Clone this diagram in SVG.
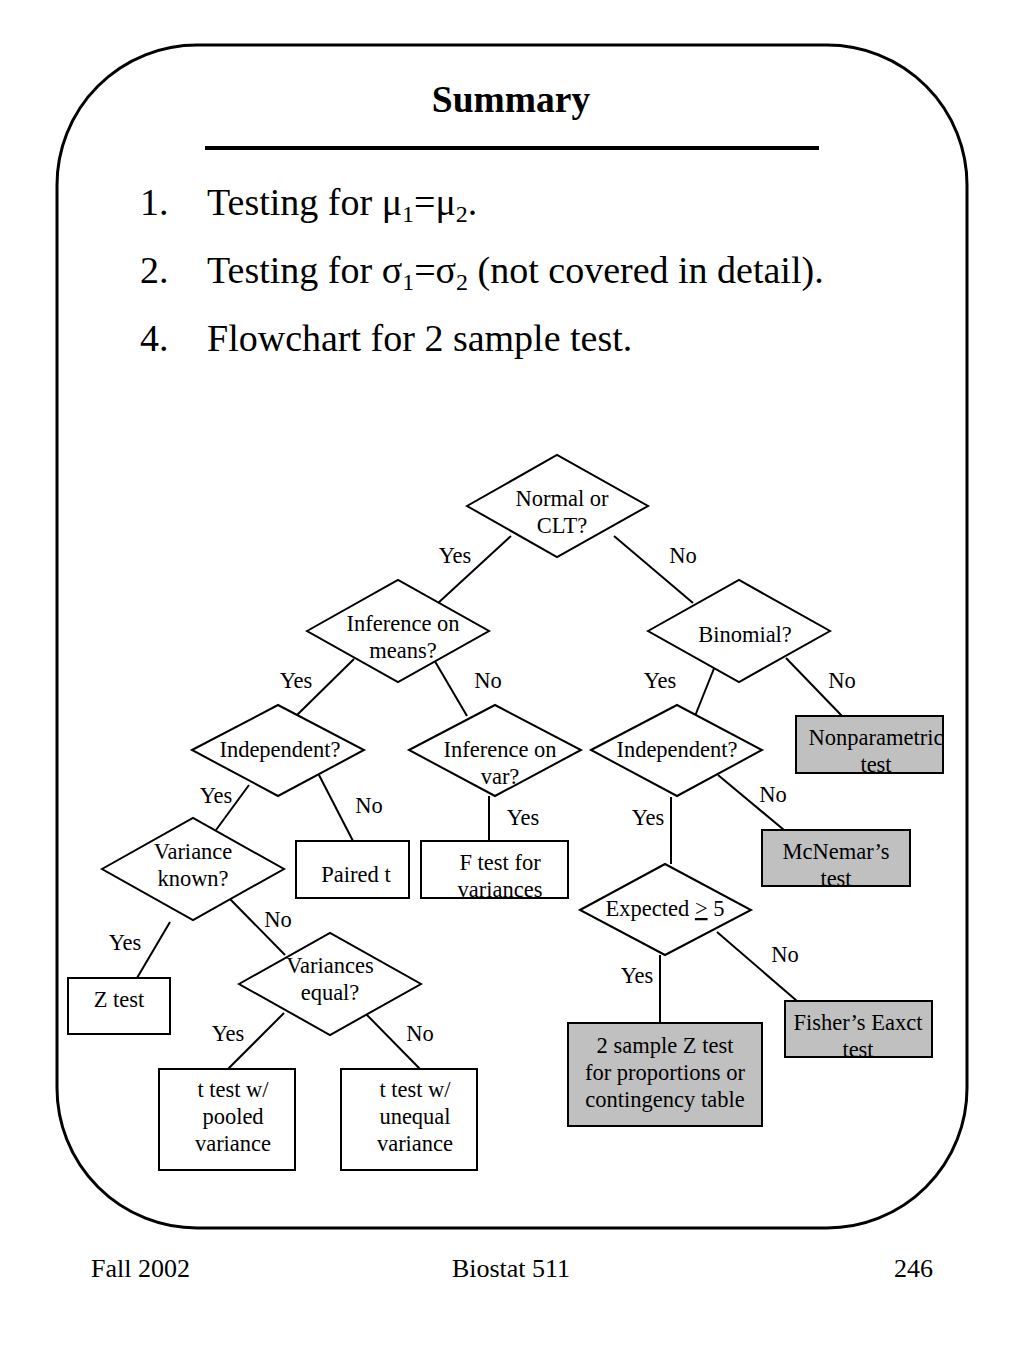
<svg xmlns="http://www.w3.org/2000/svg" width="1024" height="1365" viewBox="0 0 1024 1365">
<style>
text{font-family:"Liberation Serif","Times New Roman",serif;fill:#000}
.big{font-size:38px}
.f{font-size:22.5px;text-anchor:middle}
.ft{font-size:26px}
.d{fill:#fff;stroke:#000;stroke-width:2}
.b{fill:#fff;stroke:#000;stroke-width:2}
.g{fill:#c0c0c0;stroke:#000;stroke-width:2}
.c line{stroke:#000;stroke-width:2}
</style>
<rect width="1024" height="1365" fill="#fff"/>
<rect x="57" y="45" width="910" height="1183" rx="140" ry="140" fill="none" stroke="#000" stroke-width="3"/>
<g id="title">
<text x="511" y="112" font-size="37.5" font-weight="bold" text-anchor="middle">Summary</text>
<line x1="205" y1="148" x2="819" y2="148" stroke="#000" stroke-width="4"/>
</g>
<g id="list" class="big">
<text x="140" y="215" class="big">1.</text>
<text x="207" y="215" class="big">Testing for μ<tspan font-size="24" dy="7">1</tspan><tspan dy="-7">=μ</tspan><tspan font-size="24" dy="7">2</tspan><tspan dy="-7">.</tspan></text>
<text x="140" y="283" class="big">2.</text>
<text x="207" y="283" class="big">Testing for σ<tspan font-size="24" dy="7">1</tspan><tspan dy="-7">=σ</tspan><tspan font-size="24" dy="7">2</tspan><tspan dy="-7"> (not covered in detail).</tspan></text>
<text x="140" y="351" class="big">4.</text>
<text x="207" y="351" class="big">Flowchart for 2 sample test.</text>
</g>
<g id="connectors" class="c">
<line x1="511" y1="536" x2="437" y2="604"/>
<line x1="614" y1="536" x2="693" y2="603"/>
<line x1="354" y1="659" x2="297" y2="715"/>
<line x1="433" y1="658" x2="467" y2="716"/>
<line x1="717" y1="661" x2="695" y2="716"/>
<line x1="786" y1="658" x2="842" y2="716"/>
<line x1="249" y1="785" x2="216" y2="830"/>
<line x1="319" y1="775" x2="353" y2="841"/>
<line x1="489" y1="796" x2="489" y2="841"/>
<line x1="170" y1="922" x2="137" y2="978"/>
<line x1="229" y1="898" x2="285" y2="955"/>
<line x1="284" y1="1013" x2="228" y2="1069"/>
<line x1="365" y1="1013" x2="420" y2="1069"/>
<line x1="671" y1="797" x2="671" y2="864"/>
<line x1="718" y1="775" x2="784" y2="830"/>
<line x1="660" y1="955" x2="660" y2="1023"/>
<line x1="717" y1="932" x2="797" y2="1001"/>
</g>
<g id="edge-labels" class="f">
<text x="455" y="563" class="f">Yes</text>
<text x="683" y="563" class="f">No</text>
<text x="296" y="688" class="f">Yes</text>
<text x="488" y="688" class="f">No</text>
<text x="660" y="688" class="f">Yes</text>
<text x="842" y="688" class="f">No</text>
<text x="216" y="803" class="f">Yes</text>
<text x="369" y="813" class="f">No</text>
<text x="523" y="825" class="f">Yes</text>
<text x="648" y="825" class="f">Yes</text>
<text x="773" y="802" class="f">No</text>
<text x="125" y="950" class="f">Yes</text>
<text x="278" y="927" class="f">No</text>
<text x="228" y="1041" class="f">Yes</text>
<text x="420" y="1041" class="f">No</text>
<text x="637" y="983" class="f">Yes</text>
<text x="785" y="962" class="f">No</text>
</g>
<g id="n-normal"><polygon class="d" points="467,506 557,455 648,506 557,557"/><text class="f" x="562" y="506">Normal or</text><text class="f" x="562" y="533">CLT?</text></g>
<g id="n-means"><polygon class="d" points="307,631 398,580 489,631 398,682"/><text class="f" x="403" y="631">Inference on</text><text class="f" x="403" y="658">means?</text></g>
<g id="n-binomial"><polygon class="d" points="648,631 739,580 830,631 739,682"/><text class="f" x="745" y="642">Binomial?</text></g>
<g id="n-indep-l"><polygon class="d" points="192,750 278,705 364,750 278,796"/><text class="f" x="280" y="757">Independent?</text></g>
<g id="n-infvar"><polygon class="d" points="409,750 495,705 581,750 495,796"/><text class="f" x="500" y="757">Inference on</text><text class="f" x="500" y="784">var?</text></g>
<g id="n-indep-r"><polygon class="d" points="591,750 677,705 762,750 677,796"/><text class="f" x="677" y="757">Independent?</text></g>
<g id="n-varknown"><polygon class="d" points="102,869 193,818 284,869 193,920"/><text class="f" x="193" y="859">Variance</text><text class="f" x="193" y="886">known?</text></g>
<g id="n-varequal"><polygon class="d" points="239,984 330,933 421,984 330,1035"/><text class="f" x="330" y="973">Variances</text><text class="f" x="330" y="1000">equal?</text></g>
<g id="n-expected"><polygon class="d" points="580,910 665,864 751,910 665,955"/><text class="f" x="665" y="916">Expected <tspan text-decoration="underline">&gt;</tspan> 5</text></g>
<g id="n-nonpar"><rect class="g" x="796" y="716" width="147" height="57"/><text class="f" x="876" y="745">Nonparametric</text><text class="f" x="876" y="772">test</text></g>
<g id="n-paired"><rect class="b" x="296" y="841" width="113" height="57"/><text class="f" x="356" y="882">Paired t</text></g>
<g id="n-ftest"><rect class="b" x="421" y="841" width="147" height="57"/><text class="f" x="500" y="870">F test for</text><text class="f" x="500" y="897">variances</text></g>
<g id="n-mcnemar"><rect class="g" x="762" y="830" width="148" height="56"/><text class="f" x="836" y="859">McNemar’s</text><text class="f" x="836" y="886">test</text></g>
<g id="n-ztest"><rect class="b" x="68" y="978" width="102" height="56"/><text class="f" x="119" y="1007">Z test</text></g>
<g id="n-fisher"><rect class="g" x="785" y="1001" width="147" height="56"/><text class="f" x="858" y="1030">Fisher’s Eaxct</text><text class="f" x="858" y="1057">test</text></g>
<g id="n-2samp"><rect class="g" x="568" y="1023" width="194" height="103"/><text class="f" x="665" y="1053">2 sample Z test</text><text class="f" x="665" y="1080">for proportions or</text><text class="f" x="665" y="1107">contingency table</text></g>
<g id="n-pooled"><rect class="b" x="159" y="1069" width="136" height="101"/><text class="f" x="233" y="1097">t test w/</text><text class="f" x="233" y="1124">pooled</text><text class="f" x="233" y="1151">variance</text></g>
<g id="n-unequal"><rect class="b" x="341" y="1069" width="136" height="101"/><text class="f" x="415" y="1097">t test w/</text><text class="f" x="415" y="1124">unequal</text><text class="f" x="415" y="1151">variance</text></g>
<g id="footer" class="ft">
<text class="ft" x="91" y="1277">Fall 2002</text>
<text class="ft" x="511" y="1277" text-anchor="middle">Biostat 511</text>
<text class="ft" x="933" y="1277" text-anchor="end">246</text>
</g>
</svg>
